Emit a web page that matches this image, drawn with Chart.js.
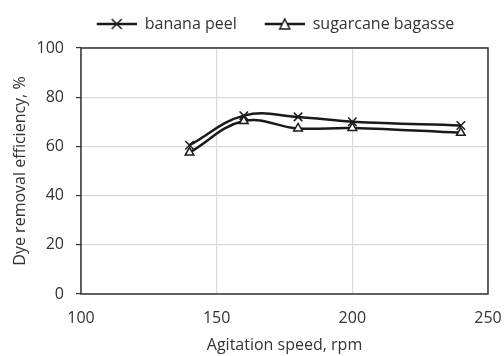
<!DOCTYPE html>
<html>
<head>
<meta charset="utf-8">
<script src="https://cdn.jsdelivr.net/npm/chart.js@4/dist/chart.umd.min.js"></script>
<style>
  html, body { margin: 0; padding: 0; background: #fff; }
  #wrap { width: 504px; height: 356px; }
</style>
</head>
<body>
<div id="wrap"><canvas id="chart"></canvas></div>
<script>
var speeds = [140, 160, 180, 200, 240];
var bananaPeel = [60.5, 72.5, 72, 70, 68.5];
var sugarcaneBagasse = [57.5, 70.3, 67.3, 67.5, 65.5];
var xTicks = [100, 150, 200, 250];
var yTicks = [0, 20, 40, 60, 80, 100];

var ink = "#1a1a1a";
var textColor = "#333";
var fontFamily = "'Open Sans', sans-serif";
var swatchGap = 16; // blank space left of each legend swatch

function toPoints(values) {
    var pts = [];
    for (var i = 0; i < speeds.length; i++) {
        pts.push({ x: speeds[i], y: values[i] });
    }
    return pts;
}

// small legend swatch: line with the marker on it
function legendSwatch(kind) {
    var c = document.createElement("canvas");
    c.width = 40 + swatchGap;
    c.height = 14;
    var g = c.getContext("2d");
    g.translate(swatchGap, 0);
    g.strokeStyle = ink;
    g.lineWidth = 2.5;
    g.beginPath();
    g.moveTo(0, 7);
    g.lineTo(40, 7);
    g.stroke();
    g.lineWidth = 1.5;
    if (kind === "cross") {
        g.beginPath();
        g.moveTo(15, 2); g.lineTo(25, 12);
        g.moveTo(25, 2); g.lineTo(15, 12);
        g.stroke();
    } else {
        g.fillStyle = "#fff";
        g.beginPath();
        g.moveTo(20, 2); g.lineTo(25, 12); g.lineTo(15, 12); g.closePath();
        g.fill();
        g.stroke();
    }
    return c;
}

var frame = {
    id: "frame",
    beforeLayout: function (chart) {
        var lg = chart.legend;
        if (lg && !lg._patched) {
            var origFit = lg.fit;
            lg.fit = function () {
                origFit.call(this);
                this.height += 6;
            };
            lg._patched = true;
        }
    },
    afterLayout: function (chart) {
        var a = chart.chartArea;
        var lg = chart.legend;
        if (lg) {
            var shift = (a.left + a.right) / 2 - (lg.left + lg.right) / 2 - 9 - swatchGap / 2;
            lg.left += shift;
            lg.right += shift;
        }
    },
    afterDraw: function (chart) {
        var a = chart.chartArea;
        var ctx = chart.ctx;
        ctx.save();
        ctx.strokeStyle = "#333";
        ctx.lineWidth = 1.5;
        ctx.strokeRect(a.left, a.top, a.right - a.left, a.bottom - a.top);
        ctx.restore();
    }
};

new Chart("chart", {
    type: "line",
    data: {
        datasets: [
            {
                label: "banana peel",
                data: toPoints(bananaPeel),
                borderColor: ink,
                borderWidth: 2.5,
                tension: 0.4,
                pointStyle: "crossRot",
                pointRadius: 6,
                pointBorderWidth: 1.5,
                pointBorderColor: ink,
                pointBackgroundColor: "#fff",
                fill: false
            },
            {
                label: "sugarcane bagasse",
                data: toPoints(sugarcaneBagasse),
                borderColor: ink,
                borderWidth: 2.5,
                tension: 0.4,
                pointStyle: "triangle",
                pointRadius: 5,
                pointBorderWidth: 1.5,
                pointBorderColor: ink,
                pointBackgroundColor: "#fff",
                fill: false
            }
        ]
    },
    options: {
        responsive: true,
        maintainAspectRatio: false,
        animation: false,
        layout: { padding: { left: 0, right: 16, top: 4, bottom: 0 } },
        plugins: {
            tooltip: { enabled: false },
            legend: {
                position: "top",
                labels: {
                    usePointStyle: true,
                    pointStyleWidth: 40 + swatchGap,
                    color: textColor,
                    font: { family: fontFamily, size: 16 },
                    padding: 12,
                    generateLabels: function (chart) {
                        return chart.data.datasets.map(function (ds, i) {
                            return {
                                text: ds.label,
                                pointStyle: legendSwatch(i === 0 ? "cross" : "triangle"),
                                fontColor: textColor,
                                lineWidth: 0,
                                strokeStyle: "transparent",
                                fillStyle: "transparent",
                                datasetIndex: i
                            };
                        });
                    }
                }
            }
        },
        scales: {
            x: {
                type: "linear",
                min: 100,
                max: 250,
                afterBuildTicks: function (axis) {
                    axis.ticks = xTicks.map(function (v) { return { value: v }; });
                },
                afterFit: function (axis) {
                    axis.height = 62;
                    axis.paddingLeft = 0;
                    axis.paddingRight = 0;
                },
                grid: { color: "#d9d9d9", lineWidth: 1.2, drawTicks: false },
                border: { display: false },
                ticks: { color: textColor, font: { family: fontFamily, size: 16 }, padding: 15, maxRotation: 0 },
                title: {
                    display: true,
                    text: "Agitation speed, rpm",
                    color: textColor,
                    font: { family: fontFamily, size: 16 },
                    padding: { top: 0, bottom: 1 }
                }
            },
            y: {
                min: 0,
                max: 100,
                afterBuildTicks: function (axis) {
                    axis.ticks = yTicks.map(function (v) { return { value: v }; });
                },
                afterFit: function (axis) { axis.width = 81; },
                grid: {
                    color: "#d9d9d9",
                    lineWidth: 1.2,
                    tickLength: 5,
                    tickColor: "#333"
                },
                border: { display: false },
                ticks: { color: textColor, font: { family: fontFamily, size: 16 }, padding: 12 },
                title: {
                    display: true,
                    text: "Dye removal efficiency, %",
                    color: textColor,
                    font: { family: fontFamily, size: 16 },
                    padding: { top: 11, bottom: 0 }
                }
            }
        }
    },
    plugins: [frame]
});
</script>
</body>
</html>
